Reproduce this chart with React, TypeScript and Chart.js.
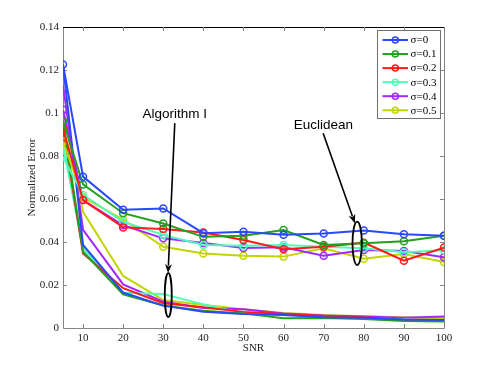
import React, { useEffect, useRef } from "react";
import { Chart, registerables } from "chart.js";

Chart.register(...registerables);

const snr = [5, 10, 20, 30, 40, 50, 60, 70, 80, 90, 100];
const xTicks = [10, 20, 30, 40, 50, 60, 70, 80, 90, 100];
const sigmaLabels = ["σ=0", "σ=0.1", "σ=0.2", "σ=0.3", "σ=0.4", "σ=0.5"];
const colors = ["#2a48ff", "#22a01e", "#ff1a1a", "#50ffb8", "#a527ff", "#c3d400"];

// Euclidean (upper, with markers)
const euc0 = [0.1226, 0.0704, 0.055, 0.0556, 0.0441, 0.0448, 0.0434, 0.044, 0.0453, 0.0436, 0.0429];
const euc1 = [0.0963, 0.0668, 0.0534, 0.0486, 0.0424, 0.0429, 0.0456, 0.0386, 0.0394, 0.0403, 0.0429];
const euc2 = [0.0929, 0.0595, 0.0468, 0.046, 0.0444, 0.0409, 0.0366, 0.0378, 0.0397, 0.0313, 0.0374];
const euc3 = [0.0795, 0.0619, 0.0494, 0.0433, 0.0386, 0.0383, 0.0386, 0.0378, 0.0371, 0.0352, 0.0362];
const euc4 = [0.1015, 0.0595, 0.0478, 0.0417, 0.0395, 0.0372, 0.0375, 0.0336, 0.0363, 0.0358, 0.0329];
const euc5 = [0.0867, 0.0608, 0.0504, 0.0378, 0.0346, 0.0336, 0.0332, 0.0371, 0.0322, 0.0344, 0.0307];

// Algorithm I (lower, no markers)
const alg0 = [0.1226, 0.0386, 0.0165, 0.0104, 0.0076, 0.0065, 0.006, 0.005, 0.0048, 0.004, 0.0037];
const alg1 = [0.096, 0.0355, 0.0157, 0.0105, 0.008, 0.0068, 0.0045, 0.0047, 0.0042, 0.0033, 0.003];
const alg2 = [0.093, 0.0347, 0.0185, 0.0115, 0.0096, 0.0075, 0.0065, 0.0057, 0.005, 0.0037, 0.0035];
const alg3 = [0.085, 0.037, 0.0164, 0.0158, 0.011, 0.0068, 0.0062, 0.0055, 0.0048, 0.004, 0.0032];
const alg4 = [0.113, 0.0456, 0.0203, 0.0122, 0.0093, 0.0087, 0.0068, 0.0058, 0.0053, 0.0048, 0.0053];
const alg5 = [0.102, 0.054, 0.0242, 0.013, 0.0107, 0.0087, 0.007, 0.006, 0.0055, 0.005, 0.0045];

const eucSeries = [euc0, euc1, euc2, euc3, euc4, euc5];
const algSeries = [alg0, alg1, alg2, alg3, alg4, alg5];

const SERIF = "'Liberation Serif', 'Times New Roman', serif";
const SANS = "'Liberation Sans', Arial, sans-serif";

const toPts = (arr: number[]) => arr.map((v, i) => ({ x: snr[i], y: v }));

const framePlugin = {
  id: "frame",
  beforeDatasetsDraw(chart: any) {
    const { ctx, chartArea, scales } = chart;
    const { left, right, top, bottom } = chartArea;
    const xs = scales.x;
    const ys = scales.y;
    ctx.save();
    ctx.lineWidth = 1;
    ctx.strokeStyle = "#858585";
    ctx.beginPath();
    ctx.moveTo(left + 0.5, top);
    ctx.lineTo(left + 0.5, bottom + 0.5);
    ctx.lineTo(right + 0.5, bottom + 0.5);
    ctx.lineTo(right + 0.5, top);
    ctx.stroke();
    ctx.strokeStyle = "#000";
    ctx.beginPath();
    ctx.moveTo(left, top + 0.5);
    ctx.lineTo(right + 1, top + 0.5);
    ctx.stroke();
    ctx.strokeStyle = "#858585";
    ctx.beginPath();
    for (const v of xTicks) {
      const px = Math.round(xs.getPixelForValue(v)) + 0.5;
      ctx.moveTo(px, bottom);
      ctx.lineTo(px, bottom - 4);
      ctx.moveTo(px, top);
      ctx.lineTo(px, top + 4);
    }
    for (let v = 0.02; v < 0.14; v += 0.02) {
      const py = Math.round(ys.getPixelForValue(v)) + 0.5;
      ctx.moveTo(left, py);
      ctx.lineTo(left + 4, py);
      ctx.moveTo(right, py);
      ctx.lineTo(right - 4, py);
    }
    ctx.stroke();
    ctx.restore();
  },
};

const annotationPlugin = {
  id: "annot",
  afterDraw(chart: any) {
    const { ctx, scales } = chart;
    const xs = scales.x;
    const ys = scales.y;
    const P = (x: number, y: number) => [xs.getPixelForValue(x), ys.getPixelForValue(y)];
    ctx.save();
    // texts
    ctx.fillStyle = "#000";
    ctx.font = `13.5px ${SANS}`;
    ctx.textAlign = "center";
    ctx.textBaseline = "middle";
    const notes = [
      { text: "Algorithm I", tx: 32.87, ty: 0.0994, ax: 32.87, ay: 0.0953, bx: 31.2, by: 0.0256, ex: 31.25, ey: 0.0153, rx: 0.87, ry: 0.0102 },
      { text: "Euclidean", tx: 69.9, ty: 0.0941, ax: 69.87, ay: 0.0906, bx: 77.78, by: 0.0487, ex: 78.35, ey: 0.0394, rx: 1.17, ry: 0.0101 },
    ];
    for (const n of notes) {
      const [tx, ty] = P(n.tx, n.ty);
      ctx.fillText(n.text, tx, ty);
      const [ax, ay] = P(n.ax, n.ay);
      const [bx, by] = P(n.bx, n.by);
      const ang = Math.atan2(by - ay, bx - ax);
      const hl = 9;
      const hw = 3.5;
      ctx.strokeStyle = "#000";
      ctx.lineWidth = 1.6;
      ctx.beginPath();
      ctx.moveTo(ax, ay);
      ctx.lineTo(bx - Math.cos(ang) * hl * 0.8, by - Math.sin(ang) * hl * 0.8);
      ctx.stroke();
      ctx.beginPath();
      ctx.moveTo(bx, by);
      ctx.lineTo(bx - Math.cos(ang) * hl - Math.sin(ang) * hw, by - Math.sin(ang) * hl + Math.cos(ang) * hw);
      ctx.lineTo(bx - Math.cos(ang) * hl * 0.7, by - Math.sin(ang) * hl * 0.7);
      ctx.lineTo(bx - Math.cos(ang) * hl + Math.sin(ang) * hw, by - Math.sin(ang) * hl - Math.cos(ang) * hw);
      ctx.closePath();
      ctx.fill();
      const [ex, ey] = P(n.ex, n.ey);
      const rxp = Math.abs(xs.getPixelForValue(n.ex + n.rx) - ex);
      const ryp = Math.abs(ys.getPixelForValue(n.ey + n.ry) - ey);
      ctx.lineWidth = 1.8;
      ctx.beginPath();
      ctx.ellipse(ex, ey, rxp, ryp, 0, 0, Math.PI * 2);
      ctx.stroke();
    }
    ctx.restore();

    // legend
    const { chartArea } = chart;
    const bx0 = chartArea.right - 67;
    const by0 = chartArea.top + 3;
    const bw = 63;
    const bh = 88;
    ctx.save();
    ctx.fillStyle = "#fff";
    ctx.fillRect(bx0, by0, bw, bh);
    ctx.strokeStyle = "#707070";
    ctx.lineWidth = 1;
    ctx.strokeRect(bx0 + 0.5, by0 + 0.5, bw, bh);
    ctx.font = `11px ${SERIF}`;
    ctx.textAlign = "left";
    ctx.textBaseline = "middle";
    sigmaLabels.forEach((lab, i) => {
      const cy = by0 + 10 + i * 14.05;
      ctx.strokeStyle = colors[i];
      ctx.lineWidth = 2;
      ctx.beginPath();
      ctx.moveTo(bx0 + 5.5, cy);
      ctx.lineTo(bx0 + 31, cy);
      ctx.stroke();
      ctx.lineWidth = 1.5;
      ctx.beginPath();
      ctx.arc(bx0 + 18.3, cy, 3, 0, Math.PI * 2);
      ctx.stroke();
      ctx.fillStyle = "#000";
      ctx.fillText(lab, bx0 + 33.5, cy + 0.5);
    });
    ctx.restore();
  },
};

export default function App() {
  const ref = useRef<HTMLCanvasElement | null>(null);
  useEffect(() => {
    if (!ref.current) return;
    const datasets: any[] = [];
    eucSeries.forEach((s, i) => {
      datasets.push({
        label: sigmaLabels[i],
        data: toPts(s),
        borderColor: colors[i],
        backgroundColor: "transparent",
        borderWidth: 2,
        pointRadius: 3.5,
        pointBorderWidth: 1.5,
        pointBorderColor: colors[i],
        pointBackgroundColor: "transparent",
        pointStyle: "circle",
        tension: 0,
      });
    });
    algSeries.forEach((s, i) => {
      datasets.push({
        label: sigmaLabels[i] + " (Algorithm I)",
        data: toPts(s),
        borderColor: colors[i],
        backgroundColor: "transparent",
        borderWidth: 2,
        pointRadius: 0,
        tension: 0,
      });
    });
    const chart = new Chart(ref.current, {
      type: "line",
      data: { datasets },
      plugins: [framePlugin, annotationPlugin],
      options: {
        animation: false,
        responsive: true,
        maintainAspectRatio: false,
        layout: { padding: { top: 27, right: 47, left: 0, bottom: 0 } },
        plugins: { legend: { display: false }, tooltip: { enabled: false } },
        scales: {
          x: {
            type: "linear",
            min: 5,
            max: 100,
            afterBuildTicks: (scale: any) => {
              scale.ticks = xTicks.map((v) => ({ value: v }));
            },
            afterFit: (scale: any) => {
              scale.height = 41;
            },
            grid: { display: false, drawTicks: false },
            border: { display: false },
            ticks: {
              padding: 4,
              color: "#222",
              font: { family: SERIF, size: 11 },
              maxRotation: 0,
              autoSkip: false,
              callback: (v: any) => String(v),
            },
            title: {
              display: true,
              text: "SNR",
              color: "#222",
              font: { family: SERIF, size: 11 },
              padding: { top: 0, bottom: 14 },
            },
          },
          y: {
            min: 0,
            max: 0.14,
            afterFit: (scale: any) => {
              scale.width = 63;
            },
            grid: { display: false, drawTicks: false },
            border: { display: false },
            ticks: {
              stepSize: 0.02,
              padding: 4,
              color: "#222",
              font: { family: SERIF, size: 11 },
              callback: (v: any) => String(Math.round(Number(v) * 100) / 100),
            },
            title: {
              display: true,
              text: "Normalized Error",
              color: "#222",
              font: { family: SERIF, size: 11 },
              padding: { top: 26, bottom: 0 },
            },
          },
        },
      } as any,
    });
    return () => chart.destroy();
  }, []);
  return (
    <div style={{ position: "absolute", left: 0, top: 0, width: 491, height: 369, background: "#fff" }}>
      <canvas ref={ref} />
    </div>
  );
}
